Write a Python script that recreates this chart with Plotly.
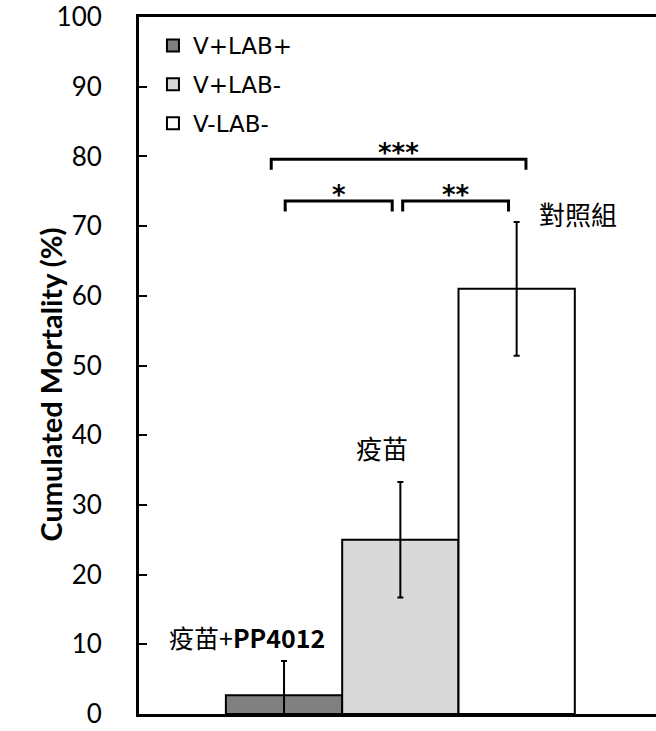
import plotly.graph_objects as go

# ---- data ----
groups = ["V+LAB+", "V+LAB-", "V-LAB-"]
labels = ["疫苗+<b>PP4012</b>", "疫苗", "對照組"]
mortality = [2.7, 25.0, 61.0]
errors = [4.9, 8.3, 9.6]
colors = ["#808080", "#d9d9d9", "#ffffff"]
y_ticks = list(range(0, 101, 10))

# significance comparisons: (from index, to index, stars)
sig_pairs = [(0, 2, "***"), (0, 1, "*"), (1, 2, "**")]

FONT = "Lato, 'Noto Sans CJK TC', sans-serif"
CJK = "'Noto Sans CJK TC', Lato, sans-serif"

fig = go.Figure()
for i, (g, v, e, c) in enumerate(zip(groups, mortality, errors, colors)):
    fig.add_trace(go.Bar(
        x=[i], y=[v], name=g, width=1,
        marker=dict(color=c, line=dict(color="black", width=2)),
        error_y=dict(type="data", array=[e], color="black", thickness=2, width=3),
        legendgroup=g,
    ))

# label annotations above bars
label_pos = [(-0.32, 11.0, 25), (0.845, 38.3, 26), (2.53, 71.8, 26)]
for lab, (lx, ly, fs) in zip(labels, label_pos):
    fig.add_annotation(x=lx, y=ly, text=lab, showarrow=False,
                       font=dict(family=CJK, size=fs, color="black"))

# significance brackets
bracket_geom = {(0, 2): (-0.11, 2.08, 79.6, 78.1), (0, 1): (0.01, 0.93, 73.6, 72.1),
                (1, 2): (1.02, 1.93, 73.6, 72.1)}
for a, b, stars in sig_pairs:
    x0, x1, ytop, yleg = bracket_geom[(a, b)]
    fig.add_shape(type="path",
                  path=f"M {x0},{yleg} L {x0},{ytop} L {x1},{ytop} L {x1},{yleg}",
                  line=dict(color="black", width=3))
    fig.add_annotation(x=(x0 + x1) / 2, y=ytop + 0.9, text=f"<b>{stars}</b>",
                       showarrow=False, yanchor="middle",
                       font=dict(family="DejaVu Sans", size=26, color="black"))

# y-axis title
fig.add_annotation(xref="paper", yref="paper", x=(30 - 139) / 517, y=(714 - 385) / 697,
                   text="<b>Cumulated Mortality (%)</b>", textangle=-90,
                   showarrow=False, font=dict(family=FONT, size=29, color="black"))

fig.update_layout(
    width=656, height=731,
    margin=dict(l=139, r=0, t=17, b=17),
    paper_bgcolor="white", plot_bgcolor="white",
    barmode="overlay",
    font=dict(family=FONT, color="black"),
    showlegend=True,
    legend=dict(x=0.027, y=0.99, xanchor="left", yanchor="top",
                font=dict(size=23, family="DejaVu Sans", color="black"),
                itemwidth=30,
                bgcolor="rgba(0,0,0,0)", traceorder="grouped", tracegroupgap=6),
    xaxis=dict(range=[-1.247, 3.198], showticklabels=False, ticks="",
               showgrid=False, zeroline=False, showline=True, linecolor="black",
               linewidth=3, mirror=True),
    yaxis=dict(range=[0, 100], tickvals=y_ticks, ticks="inside", ticklen=8,
               tickwidth=2, tickcolor="black", showgrid=False, zeroline=False,
               showline=True, linecolor="black", linewidth=3,
               tickfont=dict(size=26, family=FONT, color="black"),
               ticklabeloverflow="allow",
               ticklabelstandoff=29, automargin=False),
)

fig.write_html("out.html", config={"displayModeBar": False},
               post_script="document.body.style.margin='0';document.body.style.overflow='hidden';")
